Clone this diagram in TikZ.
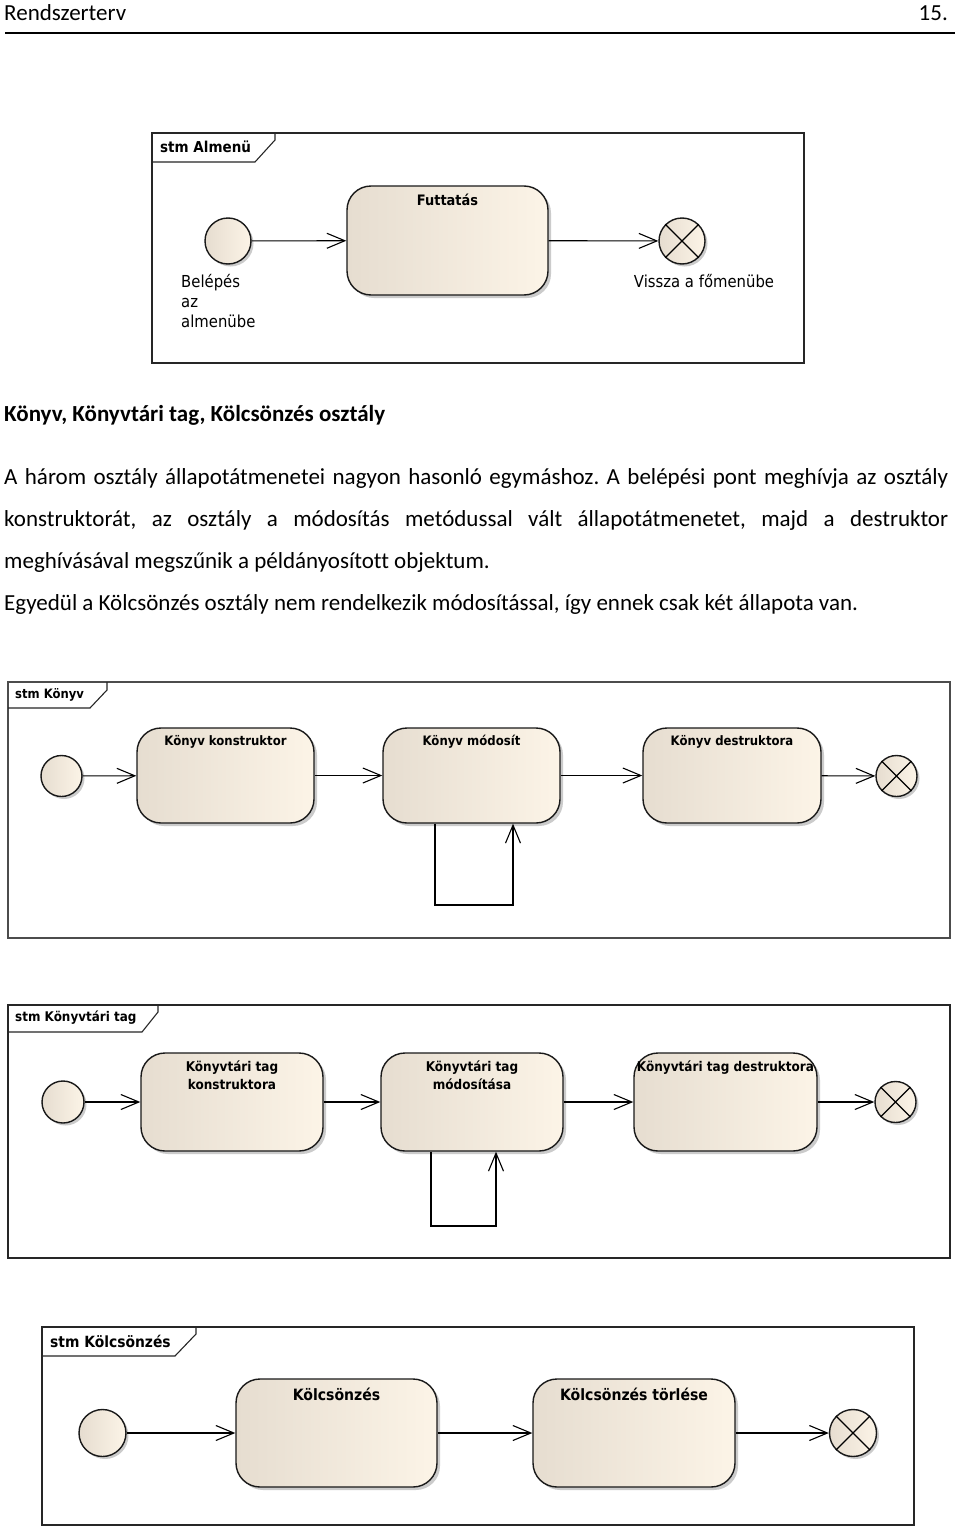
\documentclass[tikz,border=0pt]{standalone}
\usepackage{fontspec}
\setmainfont{Carlito}[Ligatures=NoCommon]
\newfontfamily\dg[FakeStretch=0.9]{DejaVu Sans}
\usetikzlibrary{arrows.meta,shadows}
\definecolor{stL}{RGB}{230,221,208}
\definecolor{stR}{RGB}{252,244,231}
\frenchspacing
\begin{document}
\begin{tikzpicture}[x=1pt,y=-1pt,
  frm/.style={draw=black!85,line width=1.3pt},
  tab/.style={draw=black!85,line width=1.1pt},
  tablbl/.style={anchor=west,inner sep=0pt,font=\dg\bfseries\fontsize{#1}{14}\selectfont},
  stt/.style={draw=black!90,line width=1.4pt,rounded corners=24pt,left color=stL,right color=stR,
    drop shadow={shadow xshift=3pt,shadow yshift=-3pt,fill=black!40,opacity=0.5}},
  inis/.style={circle,draw=black!90,line width=1.4pt,left color=stL,right color=stR,inner sep=0pt,
    drop shadow={shadow xshift=2.5pt,shadow yshift=-2.5pt,fill=black!40,opacity=0.5}},
  fins/.style={inis},
  stlbl/.style={anchor=north,inner sep=0pt,align=center,font=\dg\bfseries\fontsize{#1}{18}\selectfont},
  nlbl/.style={inner sep=0pt,font=\dg\fontsize{16.5}{20}\selectfont},
  tr/.style={draw=black,line width=1.1pt,-{Straight Barb[length=18pt,width=15pt]}},
  body/.style={anchor=base west,inner sep=0pt,font=\fontsize{23}{28}\selectfont}
]
\useasboundingbox (0,0) rectangle (960,1528);
\fill[white] (0,0) rectangle (960,1528);

% header
\node[body] (hdr) at (4,21) {Rendszerterv};
\node[anchor=base east,inner sep=0pt,font=\fontsize{23}{28}\selectfont] (pg) at (948,21) {15.};
\draw[line width=1.8pt] (5,33) -- (955,33);

% ---------------- Almenu
\draw[frm] (152,133) rectangle (804,363);
\draw[tab] (275,133) -- (275,140) -- (255,162) -- (152,162);
\node[tablbl=15] (a0) at (160,147) {stm Almenü};
\node[inis,minimum size=46pt] (ai) at (228,241) {};
\node[stt,minimum width=201pt,minimum height=109pt] (af) at (447.5,240.5) {};
\node[stlbl=14.4] (afl) at ([yshift=-8pt]af.north) {Futtatás};
\node[fins,minimum size=46pt] (ae) at (682,241) {};
\draw[line width=1.2pt] (ae.north west) -- (ae.south east) (ae.north east) -- (ae.south west);
\node[nlbl,anchor=north west,align=left] (ail) at (181,274) {Belépés\\az\\almenübe};
\node[nlbl,anchor=north] (ael) at (704,274) {Vissza a főmenübe};
\draw[tr] (ai) -- (af);
\draw[tr] (af) -- (ae);

% ---------------- text
\node[body,font=\bfseries\fontsize{23}{28}\selectfont] (h1) at (4,421) {Könyv, Könyvtári tag, Kölcsönzés osztály};
\node[body] (p1) at (4,484) {\makebox[944pt][s]{A három osztály állapotátmenetei nagyon hasonló egymáshoz. A belépési pont meghívja az osztály}};
\node[body] (p2) at (4,526) {\makebox[944pt][s]{konstruktorát, az osztály a módosítás metódussal vált állapotátmenetet, majd a destruktor}};
\node[body] (p3) at (4,568) {meghívásával megszűnik a példányosított objektum.};
\node[body] (p4) at (4,610) {Egyedül a Kölcsönzés osztály nem rendelkezik módosítással, így ennek csak két állapota van.};

% ---------------- Konyv
\draw[frm,draw=black!70] (8,682) rectangle (950,938);
\draw[tab] (107,682) -- (107,690) -- (90,708) -- (8,708);
\node[tablbl=12.9] (b0) at (15,695) {stm Könyv};
\node[inis,minimum size=41pt] (bi) at (61.5,776) {};
\node[stt,minimum width=177pt,minimum height=95pt] (b1) at (225.5,775.5) {};
\node[stt,minimum width=177pt,minimum height=95pt] (b2) at (471.5,775.5) {};
\node[stt,minimum width=178pt,minimum height=95pt] (b3) at (732,775.5) {};
\node[fins,minimum size=41pt] (be) at (896.5,776) {};
\draw[line width=1.2pt] (be.north west) -- (be.south east) (be.north east) -- (be.south west);
\node[stlbl=13] (b1l) at ([yshift=-8pt]b1.north) {Könyv konstruktor};
\node[stlbl=13] (b2l) at ([yshift=-8pt]b2.north) {Könyv módosít};
\node[stlbl=13] (b3l) at ([yshift=-8pt]b3.north) {Könyv destruktora};
\draw[tr] (bi) -- (b1);
\draw[tr] (b1) -- (b2);
\draw[tr] (b2) -- (b3);
\draw[tr] (b3) -- (be);
\coordinate (bl1) at (435,905);
\coordinate (bl2) at (513,905);
\draw[tr] (b2.south -| bl1) -- (bl1) -- (bl2) -- (b2.south -| bl2);

% ---------------- Konyvtari tag
\draw[frm] (8,1005) rectangle (950,1258);
\draw[tab] (158,1005) -- (158,1012) -- (142,1032) -- (8,1032);
\node[tablbl=13.3] (c0) at (15,1018) {stm Könyvtári tag};
\node[inis,minimum size=42pt] (ci) at (63,1102) {};
\node[stt,minimum width=182pt,minimum height=98pt] (c1) at (232,1102) {};
\node[stt,minimum width=182pt,minimum height=98pt] (c2) at (472,1102) {};
\node[stt,minimum width=183pt,minimum height=98pt] (c3) at (725.5,1102) {};
\node[fins,minimum size=41pt] (ce) at (895.5,1102) {};
\draw[line width=1.2pt] (ce.north west) -- (ce.south east) (ce.north east) -- (ce.south west);
\node[stlbl=13.4] (c1l) at ([yshift=-8.5pt]c1.north) {Könyvtári tag\\konstruktora};
\node[stlbl=13.4] (c2l) at ([yshift=-8.5pt]c2.north) {Könyvtári tag\\módosítása};
\node[stlbl=13.4] (c3l) at ([yshift=-8.5pt]c3.north) {Könyvtári tag destruktora};
\draw[tr] (ci) -- (c1);
\draw[tr] (c1) -- (c2);
\draw[tr] (c2) -- (c3);
\draw[tr] (c3) -- (ce);
\coordinate (cl1) at (431,1226);
\coordinate (cl2) at (496,1226);
\draw[tr] (c2.south -| cl1) -- (cl1) -- (cl2) -- (c2.south -| cl2);

% ---------------- Kolcsonzes
\draw[frm] (42,1327) rectangle (914,1525);
\draw[tab] (196,1327) -- (196,1334) -- (175,1356) -- (42,1356);
\node[tablbl=15.4] (d0) at (50,1341) {stm Kölcsönzés};
\node[inis,minimum size=47pt] (di) at (102.5,1433) {};
\node[stt,minimum width=201pt,minimum height=108pt] (d1) at (336.5,1433) {};
\node[stt,minimum width=202pt,minimum height=108pt] (d2) at (634,1433) {};
\node[fins,minimum size=47pt] (de) at (853,1433) {};
\draw[line width=1.2pt] (de.north west) -- (de.south east) (de.north east) -- (de.south west);
\node[stlbl=15.6] (d1l) at ([yshift=-9.5pt]d1.north) {Kölcsönzés};
\node[stlbl=15.6] (d2l) at ([yshift=-9.5pt]d2.north) {Kölcsönzés törlése};
\draw[tr] (di) -- (d1);
\draw[tr] (d1) -- (d2);
\draw[tr] (d2) -- (de);
\end{tikzpicture}
\end{document}
